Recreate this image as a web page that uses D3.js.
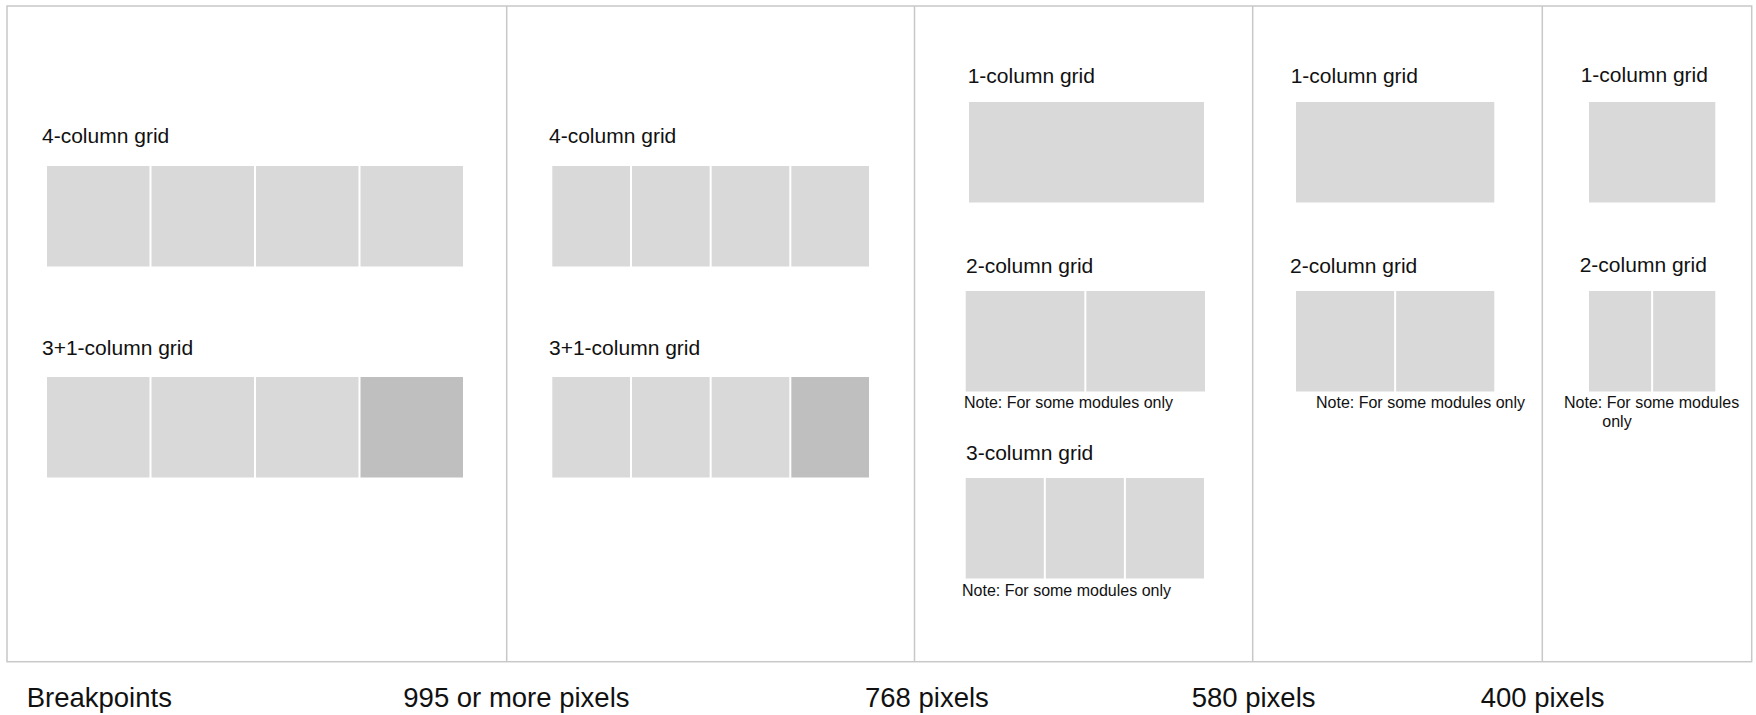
<!DOCTYPE html>
<html>
<head>
<meta charset="utf-8">
<script src="https://cdn.jsdelivr.net/npm/d3@7"></script>
<style>
  html, body { margin: 0; padding: 0; background: #fff; }
  svg { display: block; }
  text { font-family: "Liberation Sans", Arial, sans-serif; fill: #111; }
</style>
</head>
<body>
<svg id="chart" width="1756" height="715"></svg>
<script>
// ---- data ----
const rowLabel = "Breakpoints";
const breakpointLabels = ["995 or more pixels", "768 pixels", "580 pixels", "400 pixels"];
const gridTitles = ["4-column grid", "3+1-column grid", "1-column grid", "2-column grid", "3-column grid"];
const gridColumns = [4, 4, 1, 2, 3];
const gridAccentLast = [false, true, false, false, false];
const noteText = "Note: For some modules only";
// which grids appear in each breakpoint panel (index into gridTitles)
const panelGrids = [[0, 1], [0, 1], [2, 3, 4], [2, 3], [2, 3]];
// which grids carry a note, per panel
const panelNotes = [[false, false], [false, false], [false, true, true], [false, true], [false, true]];

// ---- layout ----
const svg = d3.select("#chart");
const frame = { left: 7, right: 1751.7, top: 6, bottom: 661.7 };
const dividers = [7, 506.7, 914.5, 1252.7, 1542.3, 1751.7];

// grid geometry per panel: [x0, x1] and row tops
const panelGeom = [
  { x: [47, 463], lx: 42, rows: [166, 377], labelBase: [143, 355] },
  { x: [552.3, 869], lx: 549, rows: [166, 377], labelBase: [143, 355] },
  { xs: [[969, 1204], [965.7, 1205], [965.7, 1204]], lxs: [967.7, 966, 966], rows: [102, 291, 478], labelBase: [83, 273, 460],
    notes: [null, { x: 964, y: 408, lines: [noteText] }, { x: 962, y: 596, lines: [noteText] }] },
  { x: [1296, 1494.3], lxs: [1290.7, 1290], rows: [102, 291], labelBase: [83, 273],
    notes: [null, { x: 1316, y: 408, lines: [noteText] }] },
  { x: [1589, 1715.3], lxs: [1580.7, 1579.7], rows: [102, 291], labelBase: [82, 272],
    notes: [null, { x: 1564, y: 408, lines: ["Note: For some modules", "only"], dx: [0, 38.3] }] }
];
const boxH = 100.5;
const gap = 2;

// frame
svg.append("rect")
  .attr("x", frame.left).attr("y", frame.top)
  .attr("width", frame.right - frame.left).attr("height", frame.bottom - frame.top)
  .attr("fill", "none").attr("stroke", "#c8c8c8").attr("stroke-width", 1.5);

svg.selectAll("line.div").data(dividers.slice(1, -1)).enter().append("line")
  .attr("class", "div")
  .attr("x1", d => d).attr("x2", d => d)
  .attr("y1", frame.top).attr("y2", frame.bottom)
  .attr("stroke", "#c8c8c8").attr("stroke-width", 1.5);

// grids
panelGrids.forEach((grids, p) => {
  const g = panelGeom[p];
  grids.forEach((gi, r) => {
    const xr = g.xs ? g.xs[r] : g.x;
    const lx = g.lxs ? g.lxs[r] : g.lx;
    const n = gridColumns[gi];
    const W = xr[1] - xr[0];
    const step = (W + gap) / n;
    const x = d3.scaleBand().domain(d3.range(n)).range([xr[0], xr[1]])
      .paddingInner(n > 1 ? gap / step : 0).paddingOuter(0);
    const y0 = g.rows[r];

    svg.append("text")
      .attr("x", lx).attr("y", g.labelBase[r])
      .attr("font-size", 21)
      .text(gridTitles[gi]);

    svg.append("g").selectAll("rect").data(d3.range(n)).enter().append("rect")
      .attr("x", d => x(d)).attr("y", y0)
      .attr("width", x.bandwidth()).attr("height", boxH)
      .attr("fill", d => (gridAccentLast[gi] && d === n - 1) ? "#bfbfbf" : "#d9d9d9");

    if (panelNotes[p][r] && g.notes && g.notes[r]) {
      const nt = g.notes[r];
      nt.lines.forEach((line, li) => {
        svg.append("text")
          .attr("x", nt.x + (nt.dx ? nt.dx[li] : 0))
          .attr("y", nt.y + li * 19)
          .attr("font-size", 16)
          .text(line);
      });
    }
  });
});

// bottom labels
const bottomX = [403.3, 865, 1191.7, 1480.7];
svg.append("text").attr("x", 26.7).attr("y", 707).attr("font-size", 27.5).text(rowLabel);
svg.selectAll("text.bp").data(breakpointLabels).enter().append("text")
  .attr("class", "bp")
  .attr("x", (d, i) => bottomX[i]).attr("y", 707)
  .attr("font-size", 27.5)
  .text(d => d);
</script>
</body>
</html>
